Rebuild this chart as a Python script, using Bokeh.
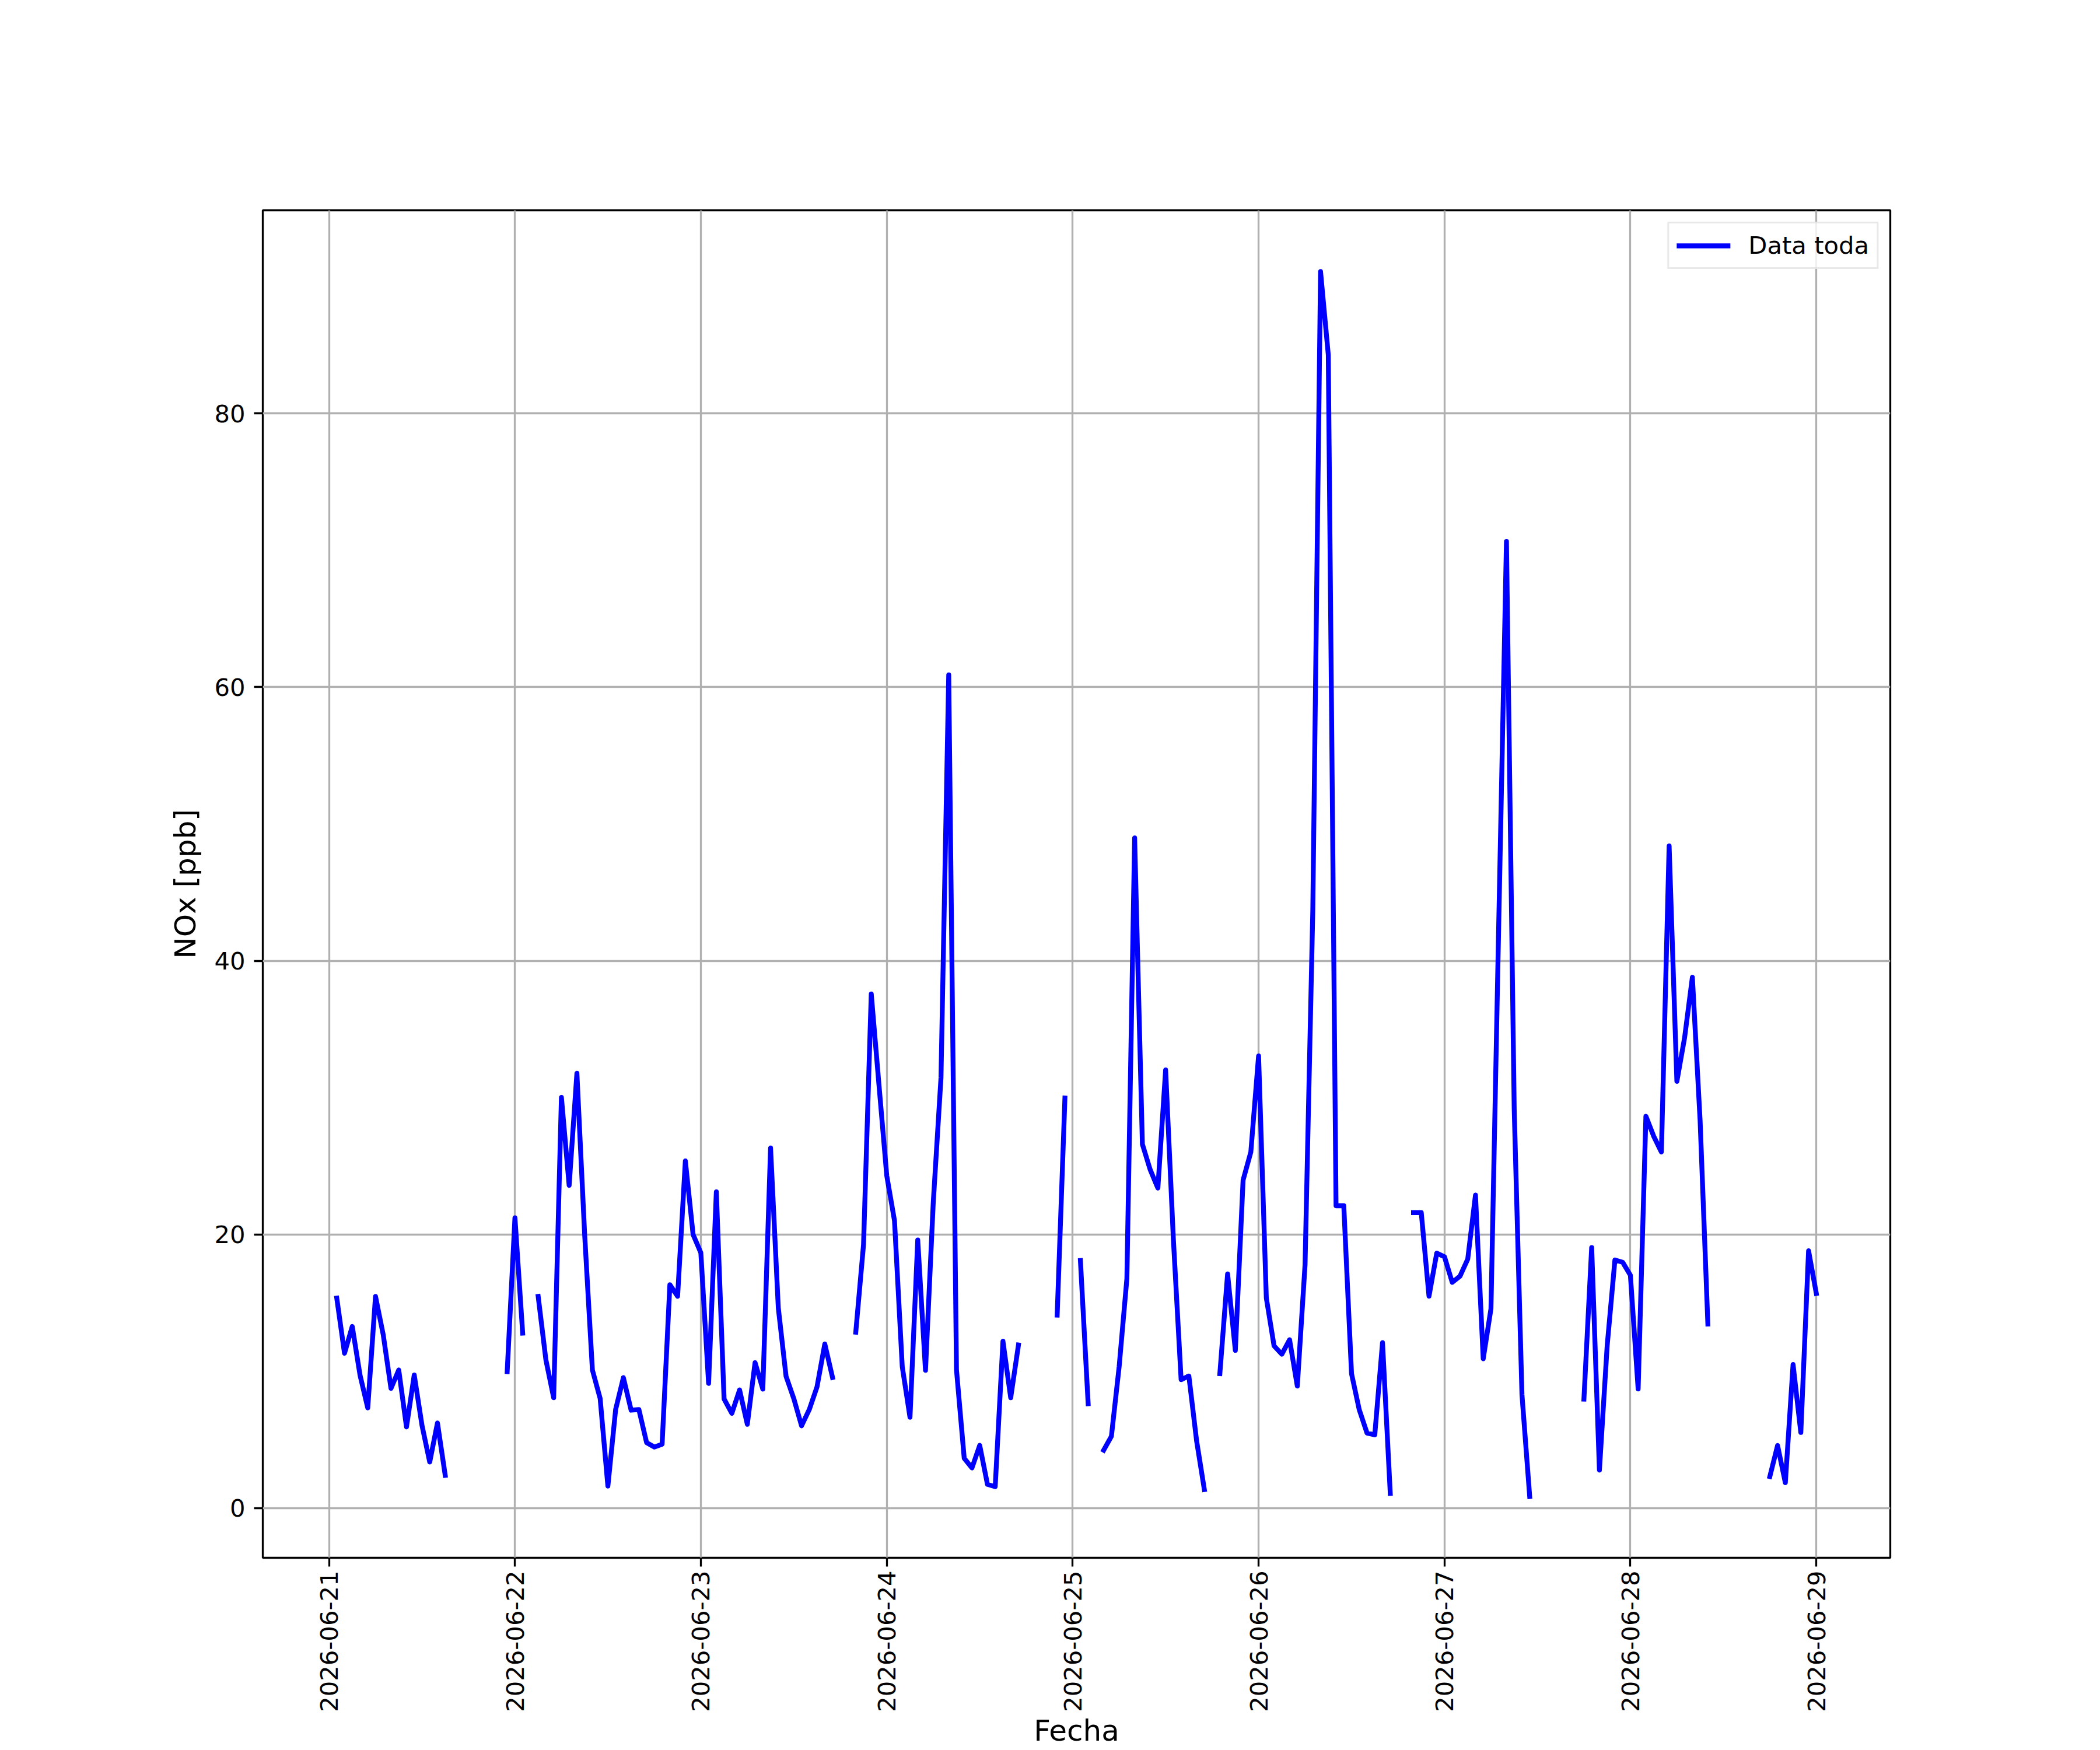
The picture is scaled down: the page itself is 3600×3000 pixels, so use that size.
import numpy as np
import pandas as pd
from math import pi
from bokeh.plotting import figure
from bokeh.models import Range1d, FixedTicker, DatetimeTickFormatter, ColumnDataSource
from bokeh.embed import file_html
from bokeh.resources import INLINE

# ---------------- data (hourly NOx, ppb; None = no data) ----------------
day_labels = ["2026-06-21", "2026-06-22", "2026-06-23", "2026-06-24", "2026-06-25",
              "2026-06-26", "2026-06-27", "2026-06-28", "2026-06-29"]
y_ticks = [0, 20, 40, 60, 80]
series_name = "Data toda"
x_title = "Fecha"
y_title = "NOx [ppb]"

#            00     01     02     03     04     05     06     07     08     09     10     11
nox_0621 = [None, 15.35, 11.32, 13.28, 9.73, 7.33, 15.48, 12.67, 8.75, 10.10, 5.94, 9.73,
            6.06, 3.37, 6.23, 2.40, None, None, None, None, None, None, None, 9.98]
nox_0622 = [21.22, 12.79, None, 15.48, 10.83, 8.07, 30.02, 23.59, 31.78, 20.0, 10.10, 8.02,
            1.61, 7.21, 9.54, 7.16, 7.21, 4.79, 4.47, 4.67, 16.33, 15.48, 25.38, 20.0]
nox_0623 = [18.66, 9.12, 23.12, 7.98, 6.93, 8.64, 6.13, 10.64, 8.70, 26.32, 14.63, 9.64,
            8.01, 6.02, 7.21, 8.87, 12.0, 9.55, None, None, 12.86, 19.25, 37.58, 30.9]
nox_0624 = [24.3, 21.0, 10.35, 6.64, 19.6, 10.07, 22.3, 31.45, 60.9, 10.12, 3.65, 2.94,
            4.59, 1.74, 1.57, 12.2, 8.07, 11.92, None, None, None, None, 14.11, 29.97]
nox_0625 = [None, 18.1, 7.63, None, 4.24, 5.25, 10.34, 16.78, 48.98, 26.6, 24.75, 23.39,
            32.03, 19.66, 9.39, 9.66, 4.92, 1.36, None, 9.83, 17.12, 11.53, 23.97, 26.03]
nox_0626 = [33.05, 15.36, 11.86, 11.25, 12.31, 8.92, 17.8, 43.7, 90.37, 84.28, 22.1, 22.1,
            9.83, 7.19, 5.49, 5.36, 12.1, 1.08, None, None, 21.6, 21.6, 15.49, 18.64]
nox_0627 = [18.37, 16.5, 16.95, 18.2, 22.88, 10.92, 14.58, 42.6, 70.65, 29.15, 8.3, 0.85,
            None, None, None, None, None, None, 7.97, 19.05, 2.78, 11.86, 18.14, 17.97]
nox_0628 = [17.02, 8.71, 28.64, 27.19, 26.03, 48.4, 31.19, 34.4, 38.8, 28.3, 13.46, None,
            None, None, None, None, None, None, 2.31, 4.58, 1.86, 10.5, 5.53, 18.81]
nox_0629 = [15.69]

values = (nox_0621 + nox_0622 + nox_0623 + nox_0624 + nox_0625 +
          nox_0626 + nox_0627 + nox_0628 + nox_0629)

times = pd.date_range(day_labels[0] + " 00:00", periods=len(values), freq="h")
x_ms = (times.asi8 // 10**6).astype(float)
y = np.array([np.nan if v is None else v for v in values], dtype=float)

valid = ~np.isnan(y)
xmin, xmax = x_ms[valid].min(), x_ms[valid].max()
ymin, ymax = np.nanmin(y), np.nanmax(y)
xpad = 0.05 * (xmax - xmin)
ypad = 0.05 * (ymax - ymin)

tick_ms = [float(v) for v in (pd.to_datetime(day_labels).asi8 // 10**6)]

src = ColumnDataSource(data=dict(t=x_ms, v=y))

FONT = "DejaVu Sans"
LW = 3.3

p = figure(width=3600, height=3000, x_axis_type="datetime",
           output_backend="svg", toolbar_location=None,
           x_range=Range1d(xmin - xpad, xmax + xpad),
           y_range=Range1d(ymin - ypad, ymax + ypad),
           min_border_left=450, min_border_right=360,
           min_border_top=360, min_border_bottom=330)
p.background_fill_color = "white"
p.border_fill_color = "white"
p.outline_line_color = "black"
p.outline_line_width = LW

p.line("t", "v", source=src, line_color="blue", line_width=8.3,
       line_join="round", line_cap="square", legend_label=series_name)

# axes
fmt = "%Y-%m-%d"
p.xaxis.ticker = FixedTicker(ticks=tick_ms)
p.xaxis.formatter = DatetimeTickFormatter(
    microseconds=fmt, milliseconds=fmt, seconds=fmt, minsec=fmt, minutes=fmt,
    hourmin=fmt, hours=fmt, days=fmt, months=fmt, years=fmt)
p.xaxis.major_label_orientation = pi / 2
p.yaxis.ticker = FixedTicker(ticks=y_ticks)

for ax in (p.xaxis, p.yaxis):
    ax.axis_line_color = None
    ax.major_tick_line_color = "black"
    ax.major_tick_line_width = LW
    ax.major_tick_out = 15
    ax.major_tick_in = 0
    ax.minor_tick_line_color = None
    ax.major_label_text_font = FONT
    ax.major_label_text_font_size = "41.7px"
    ax.major_label_text_color = "black"
    ax.axis_label_text_font = FONT
    ax.axis_label_text_font_size = "50px"
    ax.axis_label_text_font_style = "normal"
    ax.axis_label_text_color = "black"

p.xaxis.major_label_standoff = 7
p.xaxis.axis_label = x_title
p.xaxis.axis_label_standoff = 0
p.yaxis.major_label_standoff = 15
p.yaxis.axis_label = y_title
p.yaxis.axis_label_standoff = 17

# grid
for g in (p.xgrid, p.ygrid):
    g.grid_line_color = "#b0b0b0"
    g.grid_line_width = LW
p.xgrid.ticker = FixedTicker(ticks=tick_ms)
p.ygrid.ticker = FixedTicker(ticks=y_ticks)

# legend
lg = p.legend[0]
lg.location = "top_right"
lg.margin = 20
lg.padding = 13
lg.spacing = 0
lg.glyph_width = 92
lg.glyph_height = 46
lg.label_standoff = 31
lg.label_text_font = FONT
lg.label_text_font_size = "41.7px"
lg.label_text_color = "black"
lg.border_line_color = "#d3d3d3"
lg.border_line_width = LW
lg.background_fill_color = "white"
lg.background_fill_alpha = 0.8

open("out.html", "w").write(file_html(p, INLINE))
